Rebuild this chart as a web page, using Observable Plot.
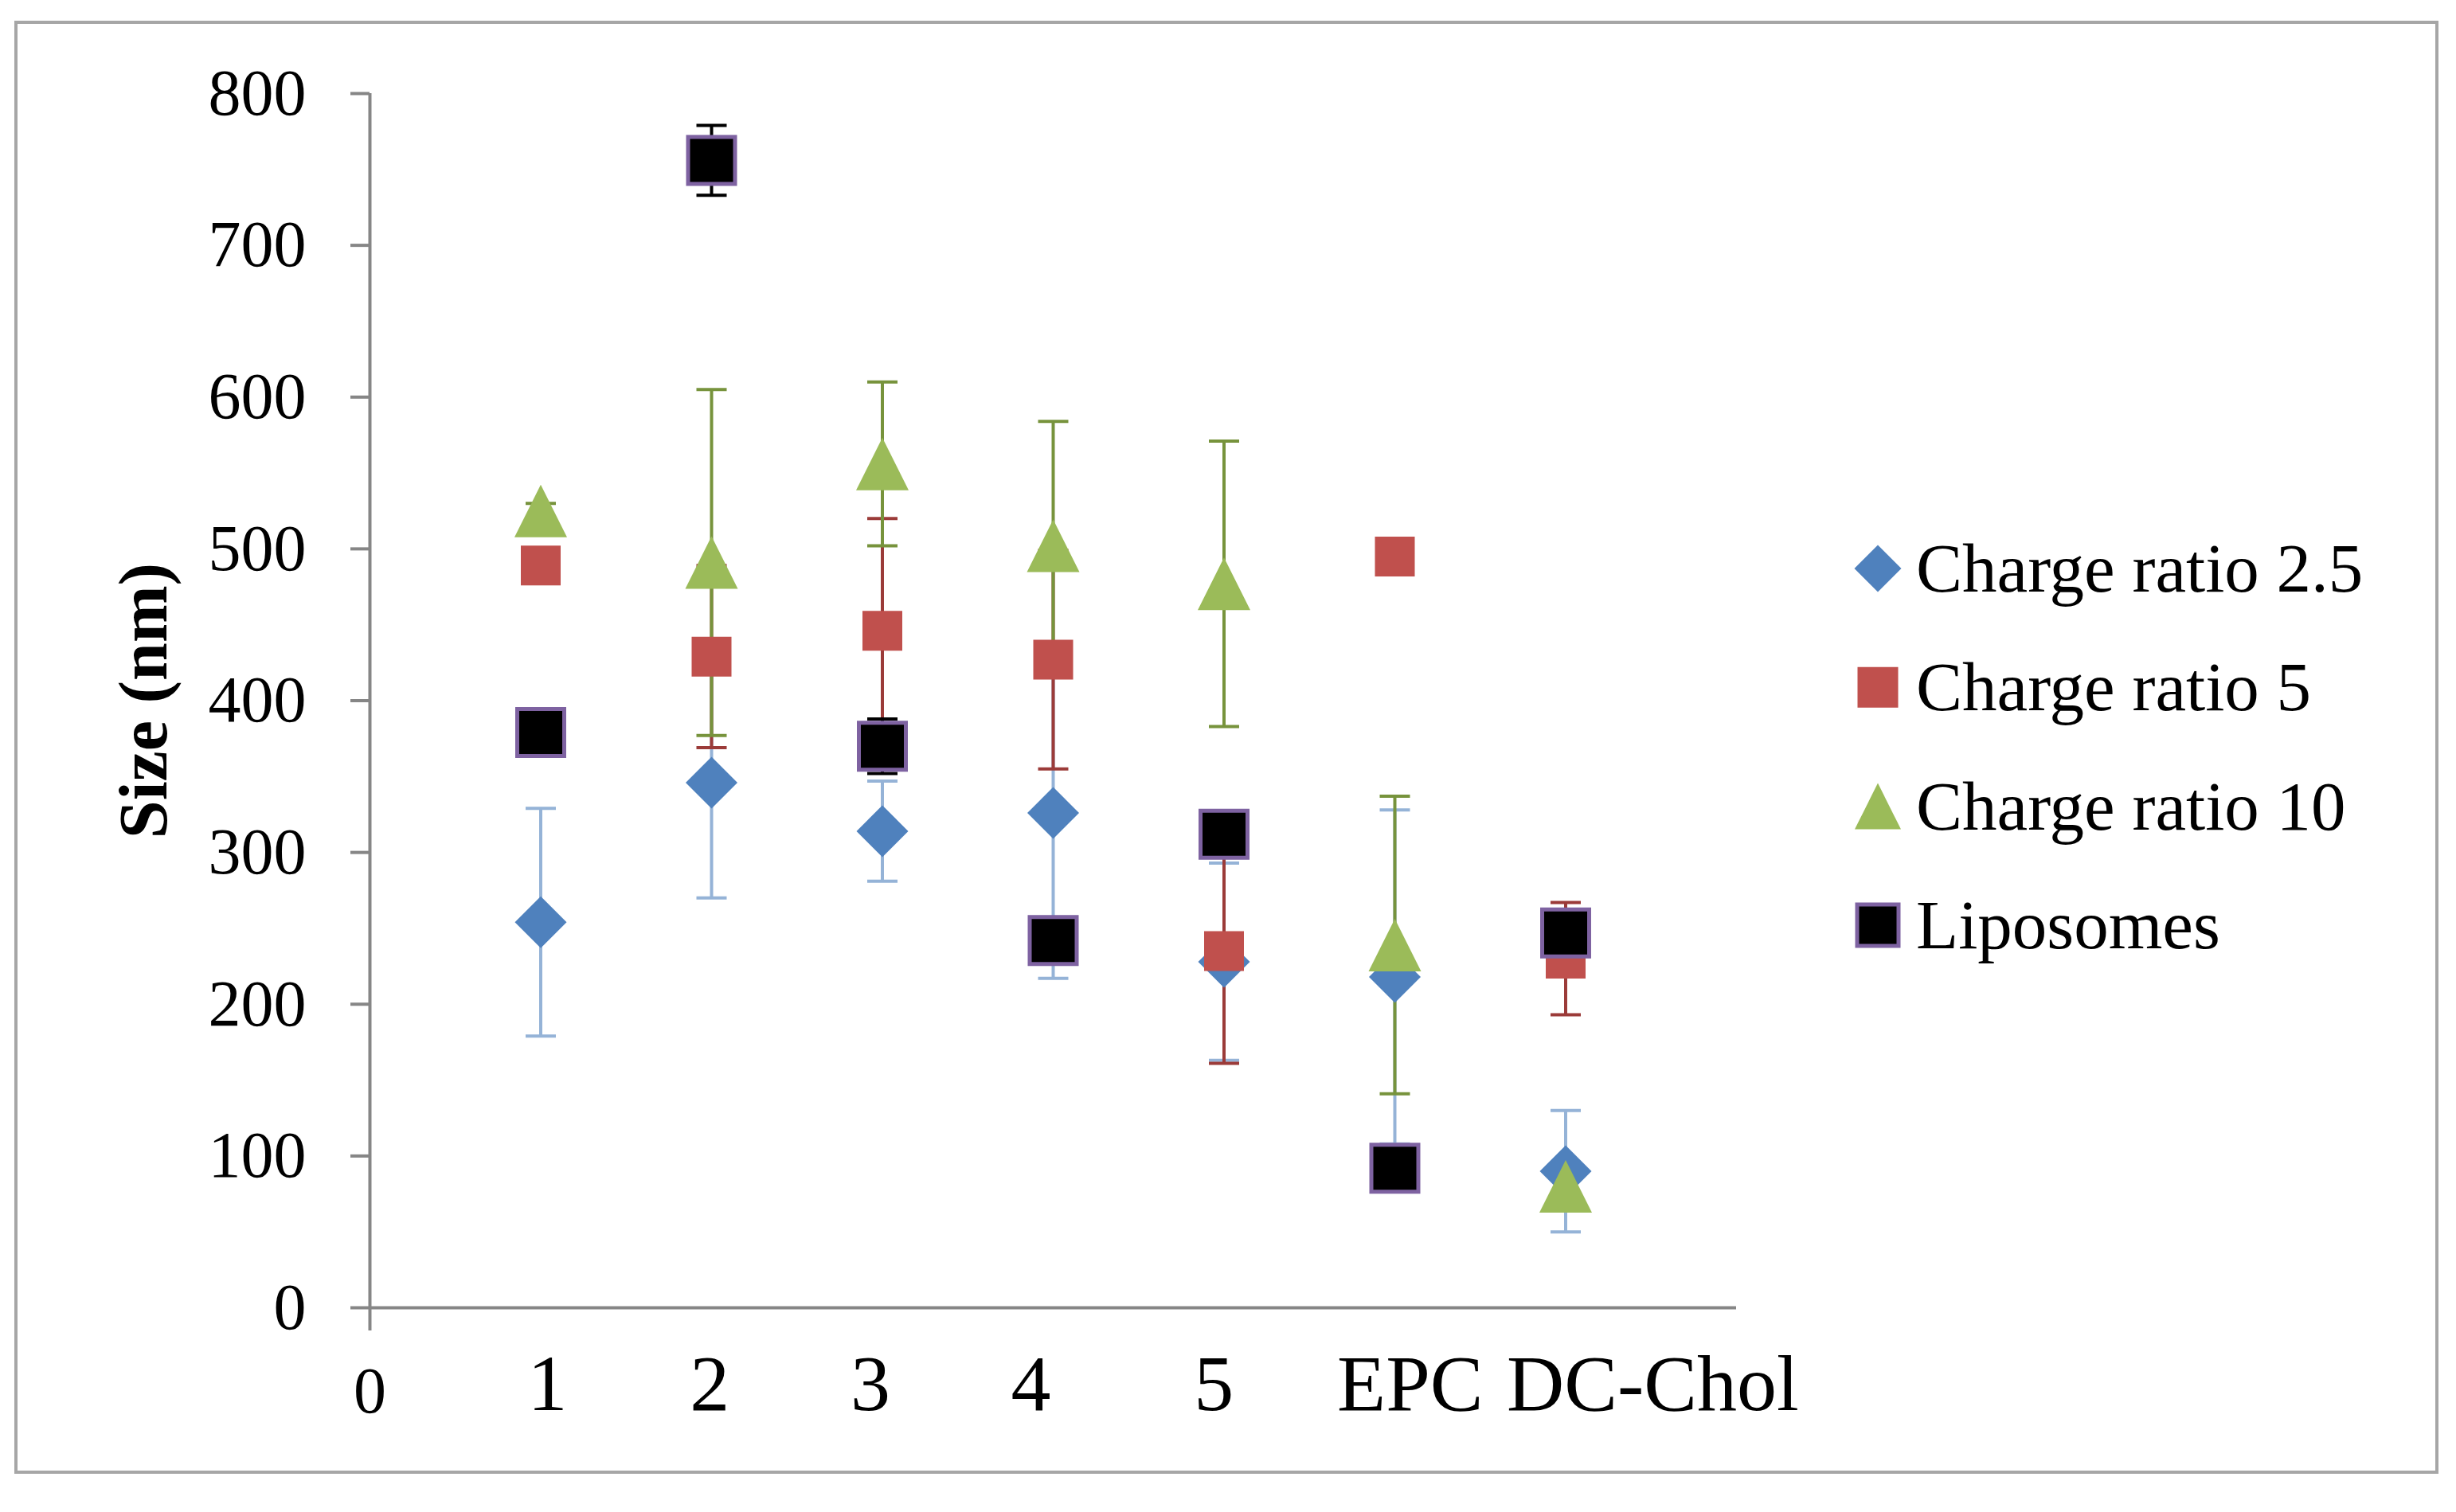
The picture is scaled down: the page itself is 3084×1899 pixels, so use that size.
<!DOCTYPE html>
<html><head><meta charset="utf-8">
<script src="https://cdn.jsdelivr.net/npm/d3@7"></script>
<script src="https://cdn.jsdelivr.net/npm/@observablehq/plot@0.6"></script>
<style>
html,body{margin:0;padding:0;background:#fff;}
#wrap{position:relative;width:3084px;height:1899px;overflow:hidden;font-family:"Liberation Serif",serif;}
#frame{position:absolute;left:18px;top:26px;width:3044px;height:1825px;border:4px solid #a6a6a6;box-sizing:border-box;}
#chart{position:absolute;left:0;top:0;}
#legend{position:absolute;left:2300px;top:640px;overflow:visible;}
</style></head>
<body>
<div id="wrap"><div id="frame"></div><div id="chart"></div><svg id="legend" width="760" height="600"></svg></div>
<script>
// ---- data ----
const seriesNames = ["Charge ratio 2.5", "Charge ratio 5", "Charge ratio 10", "Liposomes"];
const categoryLabels = ["1", "2", "3", "4", "5", "EPC", "DC-Chol"];
const categoryX = [1, 2, 3, 4, 5, 6, 7];
const labelPos = [1.04, 1.99, 2.93, 3.87, 4.94, 6.09, 7.51];
const yTicks = [0, 100, 200, 300, 400, 500, 600, 700, 800];

const cr25 = [254, 346, 314, 326, 228, 218, 90];
const cr25Err = [75, 76, 33, 109, 65, 110, 40];
const cr5 = [489, 429, 446, 427, 235, 495, 230];
const cr5Err = [6, 60, 74, 72, 74, 10, 37];
const cr10 = [525, 491, 556, 502, 477, 239, 80];
const cr10Err = [5, 114, 54, 82, 94, 98, 6];
const lipo = [379, 756, 370, 242, 312, 92, 247];
const lipoErr = [8, 23, 18, 10, 12, 8, 10];

const seriesValues = [cr25, cr5, cr10, lipo];
const seriesErrors = [cr25Err, cr5Err, cr10Err, lipoErr];

const rows = seriesNames.flatMap((s, k) =>
  categoryX.map((x, i) => ({series: s, x, v: seriesValues[k][i], e: seriesErrors[k][i]})));

// ---- symbols ----
const half = size => Math.sqrt(size / Math.PI);
const symDiamond = {draw(c, s) { const h = half(s); c.moveTo(0, -h); c.lineTo(h, 0); c.lineTo(0, h); c.lineTo(-h, 0); c.closePath(); }};
const symSquare = {draw(c, s) { const h = half(s); c.moveTo(-h, -h); c.lineTo(h, -h); c.lineTo(h, h); c.lineTo(-h, h); c.closePath(); }};
const symTriangle = {draw(c, s) { const h = half(s); c.moveTo(0, -h); c.lineTo(h, h); c.lineTo(-h, h); c.closePath(); }};
const symCap = {draw(c, s) { const h = half(s); c.moveTo(-h, 0); c.lineTo(h, 0); }};

const styles = {
  "Charge ratio 2.5": {symbol: symDiamond, r: 32.5, lr: 29.5, fill: "#4F81BD", stroke: "none", sw: 0, err: "#95B3D7"},
  "Charge ratio 5": {symbol: symSquare, r: 25, lr: 25.5, fill: "#C0504D", stroke: "none", sw: 0, err: "#9B3B39"},
  "Charge ratio 10": {symbol: symTriangle, r: 33, lr: 29, fill: "#9BBB59", stroke: "none", sw: 0, err: "#77933C"},
  "Liposomes": {symbol: symSquare, r: 29.5, lr: 26, fill: "#000000", stroke: "#7E62A1", sw: 5, err: "#000000"}
};

const axisGray = "#868686";

const errMarks = seriesNames.flatMap(s => {
  const d = rows.filter(r => r.series === s);
  const st = styles[s];
  return [
    Plot.ruleX(d, {x: "x", y1: r => r.v - r.e, y2: r => r.v + r.e, stroke: st.err, strokeWidth: 4}),
    Plot.dot(d, {x: "x", y: r => r.v + r.e, symbol: symCap, r: 19, stroke: st.err, strokeWidth: 4, fill: "none"}),
    Plot.dot(d, {x: "x", y: r => r.v - r.e, symbol: symCap, r: 19, stroke: st.err, strokeWidth: 4, fill: "none"})
  ];
});

const pointMarks = seriesNames.map(s => {
  const d = rows.filter(r => r.series === s);
  const st = styles[s];
  return Plot.dot(d, {x: "x", y: "v", symbol: st.symbol, r: st.r, fill: st.fill, stroke: st.stroke, strokeWidth: st.sw});
});

const chart = Plot.plot({
  width: 3084,
  height: 1899,
  marginLeft: 464,
  marginRight: 904,
  marginTop: 117,
  marginBottom: 257,
  x: {domain: [0, 8]},
  y: {domain: [0, 800]},
  style: {fontFamily: "Liberation Serif, serif", background: "transparent", overflow: "visible", color: "black"},
  marks: [
    Plot.axisY({ticks: yTicks, tickSize: 24, tickPadding: 56, stroke: axisGray, strokeWidth: 4, fill: "black", fontSize: 82, label: null}),
    Plot.axisX({ticks: [0], tickSize: 29, tickPadding: 44, stroke: axisGray, strokeWidth: 4, fill: "black", fontSize: 82, label: null, tickFormat: d => String(d)}),
    Plot.ruleX([0], {y1: 0, y2: 800, stroke: axisGray, strokeWidth: 4}),
    Plot.ruleY([0], {stroke: axisGray, strokeWidth: 4}),
    Plot.text(categoryLabels, {x: (d, i) => labelPos[i], frameAnchor: "bottom", text: d => d, fontSize: 100, lineAnchor: "middle", dy: 96, fill: "black"}),
    Plot.text(["Size (nm)"], {frameAnchor: "left", textAnchor: "middle", dx: -283.5, rotate: -90, fontSize: 86, fontWeight: "bold", fill: "black", text: d => d}),
    ...errMarks,
    ...pointMarks
  ]
});
document.getElementById("chart").appendChild(chart);

// ---- legend ----
const leg = d3.select("#legend");
seriesNames.forEach((s, i) => {
  const st = styles[s];
  const cy = 74 + i * 149.3;
  const p = d3.path();
  st.symbol.draw(p, Math.PI * st.lr * st.lr);
  leg.append("path").attr("d", p.toString()).attr("transform", `translate(58,${cy})`)
    .attr("fill", st.fill).attr("stroke", st.stroke).attr("stroke-width", st.sw);
  leg.append("text").attr("x", 106).attr("y", cy + 29).attr("font-size", 87)
    .attr("font-family", "Liberation Serif, serif").attr("fill", "black").text(s);
});
</script>
</body></html>
